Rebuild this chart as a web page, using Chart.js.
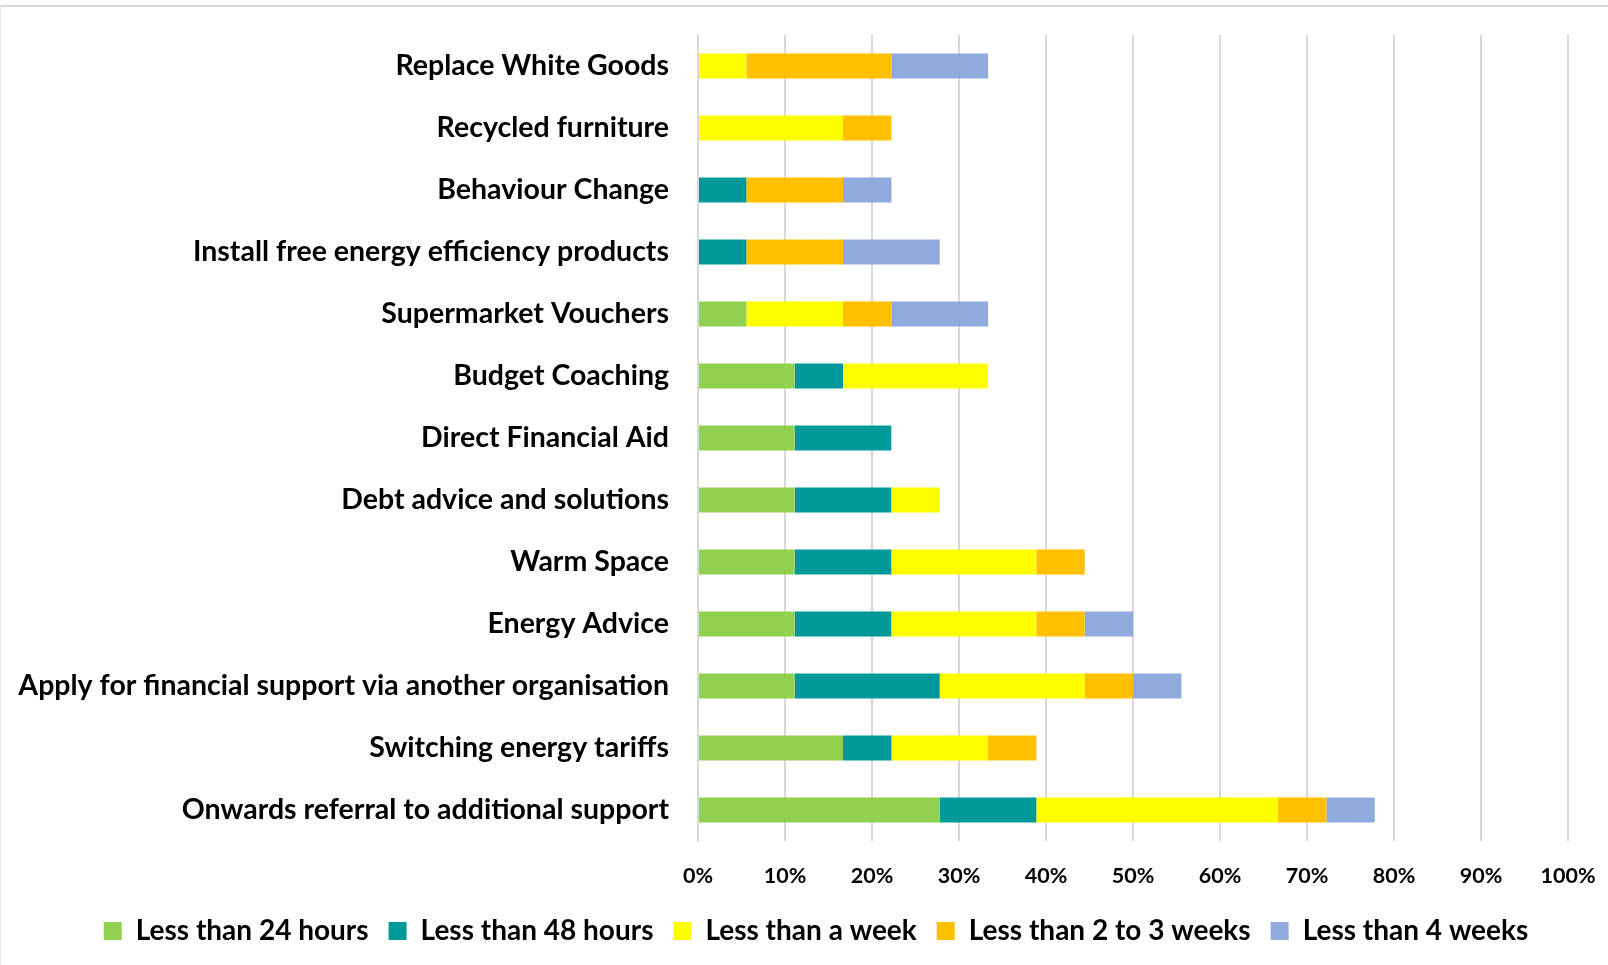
<!DOCTYPE html>
<html>
<head>
<meta charset="utf-8">
<script src="https://cdn.jsdelivr.net/npm/chart.js@4.4.1/dist/chart.umd.min.js"></script>
<style>
  html, body { margin: 0; padding: 0; background: #fff; }
  #frame { position: relative; width: 1608px; height: 965px; box-sizing: border-box;
           border-top: 2px solid #d9d9d9; border-left: 1px solid #e6e6e6; margin-top: 5px; }
  #wrap { position: absolute; left: -1px; top: -7px; width: 1608px; height: 965px; }
</style>
</head>
<body>
<div id="frame"><div id="wrap"><canvas id="chart" width="1608" height="965"></canvas></div></div>
<script>
// Support types, listed top to bottom as drawn
var categories = [
    'Replace White Goods',
    'Recycled furniture',
    'Behaviour Change',
    'Install free energy efficiency products',
    'Supermarket Vouchers',
    'Budget Coaching',
    'Direct Financial Aid',
    'Debt advice and solutions',
    'Warm Space',
    'Energy Advice',
    'Apply for financial support via another organisation',
    'Switching energy tariffs',
    'Onwards referral to additional support'
];

// Share of responses (%) per response time
var lessThan24h   = [0, 0, 0, 0, 5.56, 11.11, 11.11, 11.11, 11.11, 11.11, 11.11, 16.67, 27.78];
var lessThan48h   = [0, 0, 5.56, 5.56, 0, 5.56, 11.11, 11.11, 11.11, 11.11, 16.67, 5.56, 11.11];
var lessThanWeek  = [5.56, 16.67, 0, 0, 11.11, 16.67, 0, 5.56, 16.67, 16.67, 16.67, 11.11, 27.78];
var lessThan2to3w = [16.67, 5.56, 11.11, 11.11, 5.56, 0, 0, 0, 5.56, 5.56, 5.56, 5.56, 5.56];
var lessThan4w    = [11.11, 0, 5.56, 11.11, 11.11, 0, 0, 0, 0, 5.56, 5.56, 0, 5.56];

var seriesNames = ['Less than 24 hours', 'Less than 48 hours', 'Less than a week',
                   'Less than 2 to 3 weeks', 'Less than 4 weeks'];
var seriesColors = ['#92D050', '#009999', '#FFFF00', '#FFC000', '#8FAADC'];
var xTicks = [0, 10, 20, 30, 40, 50, 60, 70, 80, 90, 100];

var FONT = 'Lato';

function makeDataset(i, values) {
    return {
        label: seriesNames[i],
        data: values,
        backgroundColor: seriesColors[i],
        borderWidth: 0,
        categoryPercentage: 0.4,
        barPercentage: 1.0
    };
}

// nudge the legend right so it sits under the plot rather than the whole canvas
var shiftLegend = {
    id: 'shiftLegend',
    afterLayout: function (chart) {
        chart.legend.left += 27;
        chart.legend.right += 27;
    }
};

var ctx = document.getElementById('chart').getContext('2d');

var myChart = new Chart(ctx, {
    type: 'bar',
    data: {
        labels: categories,
        datasets: [
            makeDataset(0, lessThan24h),
            makeDataset(1, lessThan48h),
            makeDataset(2, lessThanWeek),
            makeDataset(3, lessThan2to3w),
            makeDataset(4, lessThan4w)
        ]
    },
    plugins: [shiftLegend],
    options: {
        indexAxis: 'y',
        responsive: false,
        animation: false,
        layout: {
            padding: { left: 10, right: 40, top: 35, bottom: 10 }
        },
        scales: {
            x: {
                stacked: true,
                min: 0,
                max: 100,
                afterBuildTicks: function (scale) {
                    scale.ticks = xTicks.map(v => ({ value: v }));
                },
                grid: {
                    color: '#d9d9d9',
                    lineWidth: 2,
                    drawTicks: false
                },
                border: { display: false },
                ticks: {
                    color: '#000',
                    padding: 22,
                    maxRotation: 0,
                    font: { family: FONT, weight: 'bold', size: 21.5 },
                    callback: function (value) { return value + '%'; }
                },
                afterFit: function (scale) {
                    scale.height = 56;
                    scale.paddingLeft = 0;
                    scale.paddingRight = 0;
                }
            },
            y: {
                stacked: true,
                grid: { display: false, drawTicks: false },
                border: { display: true, color: '#d9d9d9', width: 2 },
                ticks: {
                    color: '#000',
                    padding: 29,
                    font: { family: FONT, weight: 'bold', size: 28.5 }
                },
                afterFit: function (scale) {
                    scale.width = 688;
                    scale.paddingTop = 0;
                    scale.paddingBottom = 0;
                }
            }
        },
        plugins: {
            legend: {
                display: true,
                position: 'bottom',
                labels: {
                    color: '#000',
                    boxWidth: 18,
                    boxHeight: 18,
                    padding: 20,
                    font: { family: FONT, weight: 'bold', size: 28 }
                }
            },
            tooltip: { enabled: false }
        }
    }
});
</script>
</body>
</html>
